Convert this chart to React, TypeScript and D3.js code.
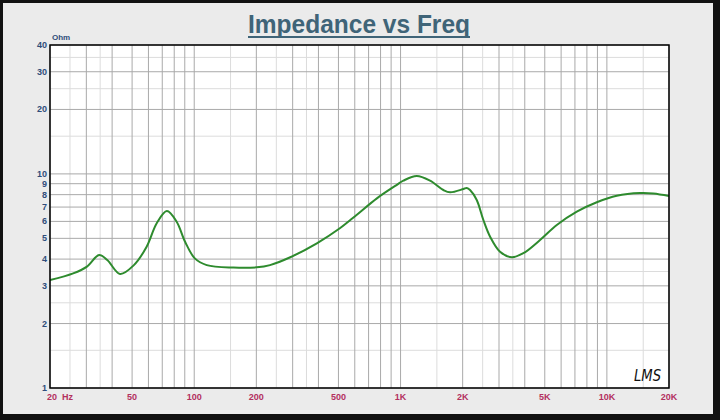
import React from "react";
import * as d3 from "d3";

const freqs = [20, 25.9, 30.2, 34.6, 37.9, 43.7, 51, 58.8, 65.8, 73.7, 82.2, 90.3, 100.7, 115, 155, 201, 233, 292, 393, 508, 612, 768, 956, 1032, 1198, 1390, 1612, 1738, 2016, 2094, 2172, 2340, 2520, 2717, 3035, 3458, 3937, 4743, 5717, 7149, 8934, 11170, 14490, 16800, 20000];
const impedance = [3.19, 3.43, 3.69, 4.18, 3.96, 3.41, 3.75, 4.57, 5.88, 6.71, 5.98, 4.82, 4.03, 3.75, 3.65, 3.66, 3.75, 4.08, 4.74, 5.57, 6.43, 7.69, 8.87, 9.3, 9.78, 9.3, 8.41, 8.2, 8.5, 8.6, 8.41, 7.55, 6.09, 5.09, 4.33, 4.08, 4.26, 4.91, 5.77, 6.66, 7.37, 7.91, 8.14, 8.1, 7.88];

const xMajor = [20, 30, 40, 50, 60, 70, 80, 90, 100, 200, 300, 400, 500, 600, 700, 800, 900, 1000, 2000, 3000, 4000, 5000, 6000, 7000, 8000, 9000, 10000, 20000];
const xMinor = [25, 35, 150, 250, 350, 1500, 2500, 3500, 15000];
const xTickValues = [20, 50, 100, 200, 500, 1000, 2000, 5000, 10000, 20000];
const xTickLabels = ["20  Hz", "50", "100", "200", "500", "1K", "2K", "5K", "10K", "20K"];

const yMajor = [1, 2, 3, 4, 5, 6, 7, 8, 9, 10, 20, 30, 40];
const yMinor = [1.5, 2.5, 3.5, 15, 25, 35];
const yTickValues = [1, 2, 3, 4, 5, 6, 7, 8, 9, 10, 20, 30, 40];

export default function App() {
  const W = 720, H = 420;
  const L = 50, R = 669, T = 45, B = 388;
  const x = d3.scaleLog().domain([20, 20000]).range([L, R]);
  const y = d3.scaleLog().domain([1, 40]).range([B, T]);
  const line = d3
    .line<number>()
    .x((_, i) => x(freqs[i]))
    .y((d) => y(d))
    .curve(d3.curveCatmullRom.alpha(0.5));
  const path = line(impedance) || "";

  return (
    <svg width={W} height={H} style={{ position: "absolute", left: 0, top: 0, display: "block" }}>
      <rect x={0} y={0} width={W} height={H} fill="#111" />
      <rect x={3} y={3} width={710} height={411} fill="#ebebeb" />
      <defs>
        <clipPath id="plotclip">
          <rect x={L} y={T} width={R - L} height={B - T} />
        </clipPath>
      </defs>
      <rect x={L} y={T} width={R - L} height={B - T} fill="#ffffff" />
      {xMinor.map((f) => (
        <line key={"xm" + f} x1={x(f)} x2={x(f)} y1={T} y2={B} stroke="#dcdcdc" strokeWidth={1} />
      ))}
      {yMinor.map((v) => (
        <line key={"ym" + v} x1={L} x2={R} y1={y(v)} y2={y(v)} stroke="#dcdcdc" strokeWidth={1} />
      ))}
      {xMajor.map((f) => (
        <line key={"xM" + f} x1={x(f)} x2={x(f)} y1={T} y2={B} stroke="#a9a9a9" strokeWidth={1} />
      ))}
      {yMajor.map((v) => (
        <line key={"yM" + v} x1={L} x2={R} y1={y(v)} y2={y(v)} stroke="#a9a9a9" strokeWidth={1} />
      ))}
      <path d={path} fill="none" stroke="#2e8b2e" strokeWidth={2} clipPath="url(#plotclip)" />
      <rect x={L} y={T} width={R - L} height={B - T} fill="none" stroke="#000" strokeWidth={1.5} />
      {yTickValues.map((v) => (
        <text key={"yl" + v} x={L - 3} y={y(v) + 3} textAnchor="end" fontFamily="Liberation Sans, Arial, sans-serif" fontWeight="bold" fontSize={9} fill="#2f4d7a">
          {v}
        </text>
      ))}
      <text x={L + 2} y={T - 5} fontFamily="Liberation Sans, Arial, sans-serif" fontWeight="bold" fontSize={8} fill="#2f4d7a">Ohm</text>
      {xTickValues.map((f, i) => (
        <text key={"xl" + f} x={x(f) + (i === 0 ? -3 : 0)} y={B + 12} textAnchor={i === 0 ? "start" : "middle"} fontFamily="Liberation Sans, Arial, sans-serif" fontWeight="bold" fontSize={9} fill="#b3305f" style={{ whiteSpace: "pre" }} xmlSpace="preserve">
          {xTickLabels[i]}
        </text>
      ))}
      <text x={359} y={33} textAnchor="middle" fontFamily="Liberation Sans Narrow, Arial Narrow, Liberation Sans, sans-serif" fontWeight="bold" fontSize={25} fill="#3f6478" textLength={222} lengthAdjust="spacingAndGlyphs">
        Impedance vs Freq
      </text>
      <rect x={248} y={36} width={222} height={2} fill="#3f6478" />
      <text x={634} y={381} fontFamily="DejaVu Sans, sans-serif" fontStyle="italic" fontSize={15} fill="#111" textLength={27} lengthAdjust="spacingAndGlyphs">
        LMS
      </text>
    </svg>
  );
}
